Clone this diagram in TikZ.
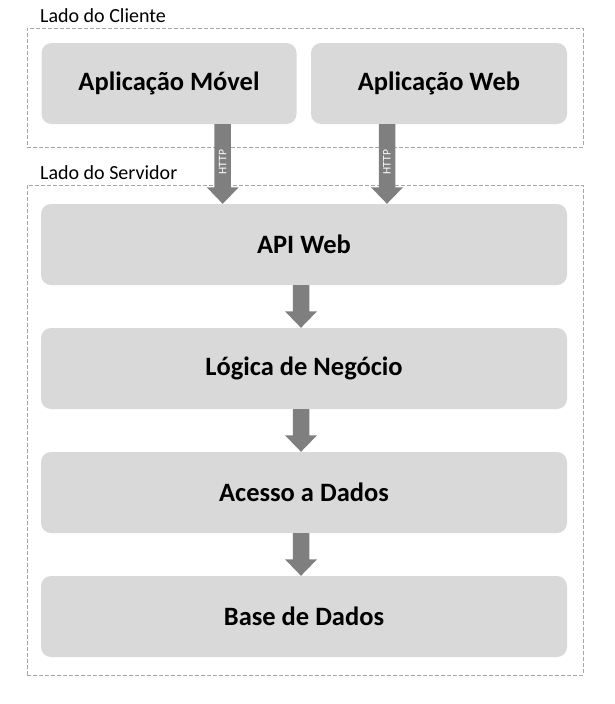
\documentclass[tikz,border=0pt]{standalone}
\usepackage{fontspec}
\setmainfont{Carlito}
\usetikzlibrary{calc}
\definecolor{boxfill}{HTML}{D9D9D9}
\definecolor{arrowfill}{HTML}{7F7F7F}
\definecolor{dashc}{HTML}{A6A6A6}
\newcommand\blockarrow[3]{%
  \fill[arrowfill] let \p1=(#1.south), \p2=(#2.north) in
    ({#3pt-8.25pt},\y1) -- ({#3pt+8.25pt},\y1) -- ({#3pt+8.25pt},{\y2+16.5pt})
    -- ({#3pt+16pt},{\y2+16.5pt}) -- ({#3pt},\y2) -- ({#3pt-16pt},{\y2+16.5pt})
    -- ({#3pt-8.25pt},{\y2+16.5pt}) -- cycle;}
\begin{document}
\begin{tikzpicture}[x=1pt,y=-1pt,
  cont/.style={draw=dashc, line width=0.9pt, dash pattern=on 4pt off 2pt, inner sep=0pt},
  grp/.style={anchor=base west, inner sep=0pt, font=\fontsize{20}{23}\selectfont},
  box/.style={fill=boxfill, rounded corners=10pt, inner sep=0pt, minimum height=81pt,
    font=\bfseries\fontsize{26.5}{30}\selectfont},
  http/.style={rotate=90, inner sep=0pt, text=white, font=\fontsize{11.5}{13}\selectfont}]
\useasboundingbox (0,0) rectangle (614,704);
% containers
\node[cont, minimum width=556pt, minimum height=119pt] (client) at (305,87.5) {};
\node[grp] (clientlbl) at (40,22.7) {Lado do Cliente};
\node[cont, minimum width=556pt, minimum height=490pt] (server) at (305,430) {};
\node[grp] (serverlbl) at (40,179) {Lado do Servidor};
% boxes
\node[box, minimum width=255pt] (mob) at (169,83.5) {Aplicação Móvel};
\node[box, minimum width=256pt] (web) at (439,83.5) {Aplicação Web};
\node[box, minimum width=526pt] (api) at (304,244.5) {API Web};
\node[box, minimum width=526pt] (log) at (304,368.5) {Lógica de Negócio};
\node[box, minimum width=526pt] (acc) at (304,492.5) {Acesso a Dados};
\node[box, minimum width=526pt] (db) at (304,616.5) {Base de Dados};
% arrows
\blockarrow{mob}{api}{222.7}
\blockarrow{web}{api}{387}
\blockarrow{api}{log}{301}
\blockarrow{log}{acc}{301}
\blockarrow{acc}{db}{301}
\node[http] (h1) at (222.7,162) {HTTP};
\node[http] (h2) at (387,162) {HTTP};
\end{tikzpicture}
\end{document}
